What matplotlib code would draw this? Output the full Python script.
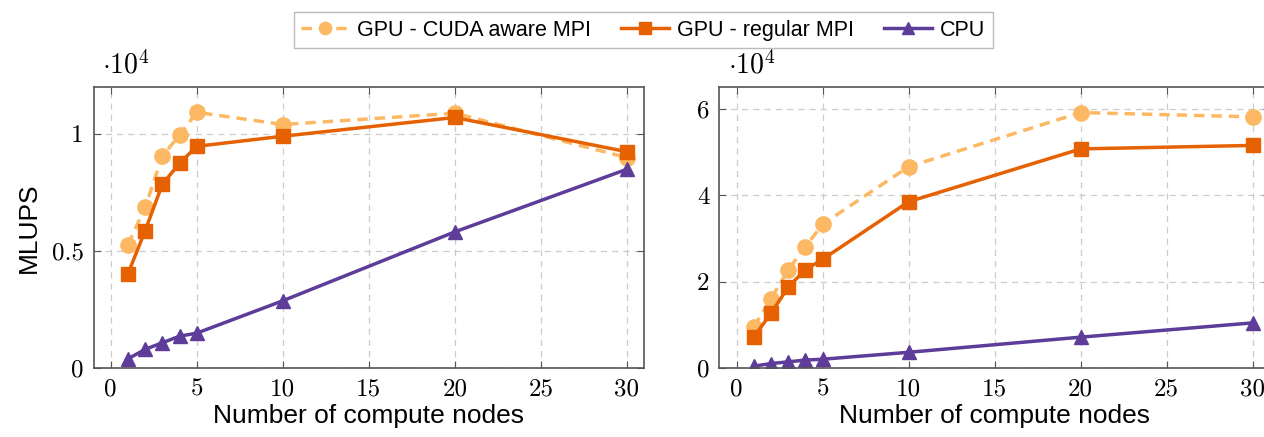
import numpy as np
import matplotlib
matplotlib.use('Agg')
import matplotlib.pyplot as plt

# compute nodes
nodes = [1, 2, 3, 4, 5, 10, 20, 30]

# left panel, MLUPS in units of 1e4
left_cuda = [0.527, 0.687, 0.905, 0.995, 1.092, 1.040, 1.088, 0.899]
left_regular = [0.403, 0.587, 0.785, 0.875, 0.947, 0.990, 1.070, 0.924]
left_cpu = [0.040, 0.081, 0.109, 0.137, 0.150, 0.288, 0.582, 0.849]

# right panel, MLUPS in units of 1e4
right_cuda = [0.96, 1.61, 2.28, 2.81, 3.33, 4.66, 5.91, 5.81]
right_regular = [0.73, 1.27, 1.88, 2.28, 2.52, 3.85, 5.07, 5.15]
right_cpu = [0.05, 0.11, 0.15, 0.19, 0.21, 0.37, 0.72, 1.05]

series_names = ["GPU - CUDA aware MPI", "GPU - regular MPI", "CPU"]
colors = ["#fdb863", "#e66101", "#5e3c99"]

left_yticks = [0, 0.5, 1]
left_yticklabels = ["0", "0.5", "1"]
right_yticks = [0, 2, 4, 6]
right_yticklabels = ["0", "2", "4", "6"]
xticks = [0, 5, 10, 15, 20, 25, 30]

plt.rcParams['font.family'] = ['Liberation Sans', 'DejaVu Sans']
plt.rcParams['mathtext.fontset'] = 'cm'

fig = plt.figure(figsize=(12.64, 4.37), dpi=100)
ax1 = fig.add_axes([0.0740, 0.1572, 0.4355, 0.6437])
ax2 = fig.add_axes([0.5692, 0.1572, 0.4355, 0.6437])


def draw(ax, cuda, regular, cpu, yticks, yticklabels, ymax):
    ax.plot(nodes, cuda, color=colors[0], linestyle=(0, (3, 2)), linewidth=2.5,
            marker='o', markersize=11, label=series_names[0])
    ax.plot(nodes, regular, color=colors[1], linewidth=2.5,
            marker='s', markersize=10.5, label=series_names[1])
    ax.plot(nodes, cpu, color=colors[2], linewidth=2.5,
            marker='^', markersize=10.5, label=series_names[2])
    ax.set_xlim(-1, 31)
    ax.set_ylim(0, ymax)
    ax.set_xticks(xticks)
    ax.set_xticklabels([str(t) for t in xticks], fontfamily='cmr10', fontsize=18)
    ax.set_yticks(yticks)
    ax.set_yticklabels(yticklabels, fontfamily='cmr10', fontsize=18)
    ax.tick_params(direction='in', top=True, right=True, length=5, width=0.8,
                   color='#555555', pad=7)
    ax.grid(True, color='#cccccc', linestyle=(0, (5, 4)), linewidth=0.9)
    for s in ax.spines.values():
        s.set_color('#555555')
        s.set_linewidth(1.2)
    ax.set_xlabel("Number of compute nodes", fontsize=19, labelpad=3)
    ax.text(0.015, 1.025, r'$\cdot 10^4$', transform=ax.transAxes, fontsize=20,
            ha='left', va='bottom')


draw(ax1, left_cuda, left_regular, left_cpu, left_yticks, left_yticklabels, 1.2)
draw(ax2, right_cuda, right_regular, right_cpu, right_yticks, right_yticklabels, 6.5)
ax1.set_ylabel("MLUPS", fontsize=19, labelpad=8)

handles, labels = ax1.get_legend_handles_labels()
leg = fig.legend(handles, labels, loc='center', bbox_to_anchor=(0.509, 0.931),
                 ncol=3, fontsize=15.5, frameon=True, fancybox=False,
                 edgecolor='#aaaaaa', handlelength=2.2, handletextpad=0.4,
                 columnspacing=1.4, borderpad=0.35, markerscale=0.8)
leg.get_frame().set_linewidth(1.0)

fig.savefig("out.png", dpi=100)
plt.close(fig)
